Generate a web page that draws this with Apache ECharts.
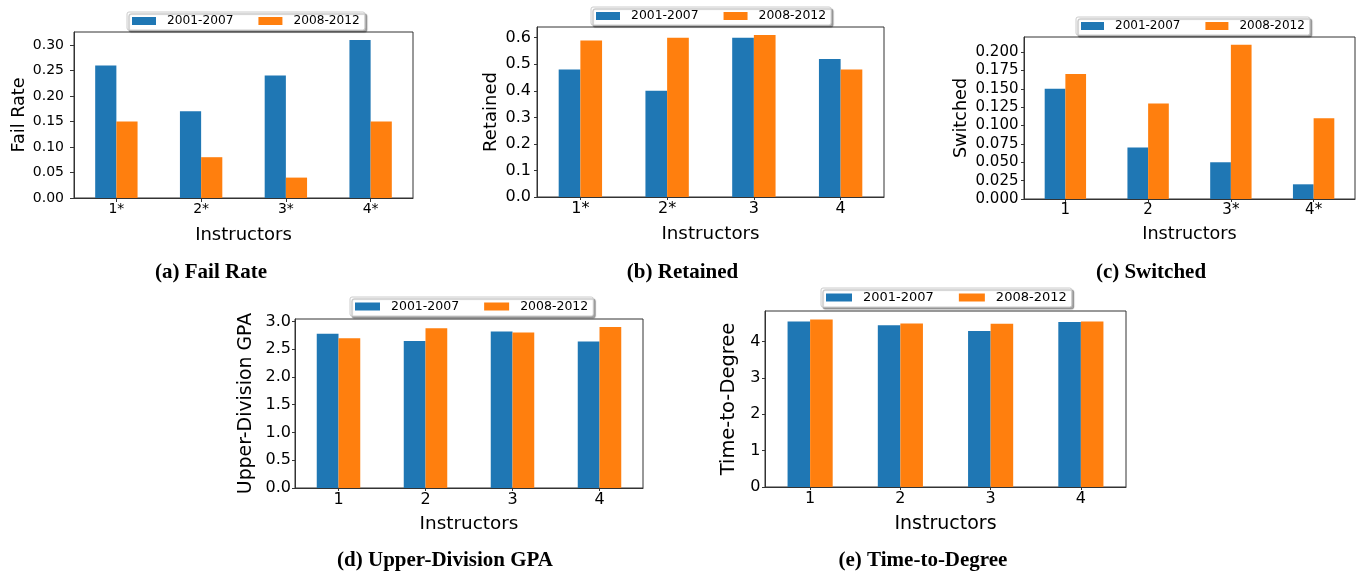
<!DOCTYPE html>
<html><head><meta charset="utf-8">
<script src="https://cdn.jsdelivr.net/npm/echarts@6/dist/echarts.min.js"></script>
<style>html,body{margin:0;padding:0;background:#fff}#c{width:1357px;height:577px}</style>
</head><body><div id="c"></div>
<script>
// ---------------- data ----------------
const seriesNames = ['2001-2007', '2008-2012'];
const xTitle = 'Instructors';

const failCats = ['1*', '2*', '3*', '4*'];
const fail0107 = [0.26, 0.17, 0.24, 0.31];
const fail0812 = [0.15, 0.08, 0.04, 0.15];
const failTicks = [0, 0.05, 0.10, 0.15, 0.20, 0.25, 0.30];

const retCats = ['1*', '2*', '3', '4'];
const ret0107 = [0.48, 0.40, 0.60, 0.52];
const ret0812 = [0.59, 0.60, 0.61, 0.48];
const retTicks = [0, 0.1, 0.2, 0.3, 0.4, 0.5, 0.6];

const swCats = ['1', '2', '3*', '4*'];
const sw0107 = [0.15, 0.07, 0.05, 0.02];
const sw0812 = [0.17, 0.13, 0.21, 0.11];
const swTicks = [0, 0.025, 0.050, 0.075, 0.100, 0.125, 0.150, 0.175, 0.200];

const gpaCats = ['1', '2', '3', '4'];
const gpa0107 = [2.78, 2.65, 2.82, 2.64];
const gpa0812 = [2.70, 2.88, 2.80, 2.90];
const gpaTicks = [0, 0.5, 1.0, 1.5, 2.0, 2.5, 3.0];

const ttdCats = ['1', '2', '3', '4'];
const ttd0107 = [4.55, 4.45, 4.29, 4.54];
const ttd0812 = [4.61, 4.50, 4.49, 4.55];
const ttdTicks = [0, 1, 2, 3, 4];

const yTitles = ['Fail Rate', 'Retained', 'Switched', 'Upper-Division GPA', 'Time-to-Degree'];
const captions = ['(a) Fail Rate', '(b) Retained', '(c) Switched', '(d) Upper-Division GPA', '(e) Time-to-Degree'];

// ---------------- layout ----------------
const colors = ['#1f77b4', '#ff7f0e'];
const FONT = 'DejaVu Sans';
const panels = [
  {cats: failCats, a: fail0107, b: fail0812, ticks: failTicks, dec: 2,
   grid: {left: 74, top: 32, width: 339, height: 166}, yGap: 55, xGap: 37,
   tickFs: 14, yMargin: 10, tickLen: 4, yNameFs: 17.6, xNameFs: 18,
   leg: {left: 127, top: 12, fs: 12.2, iw: 24}, cap: [211, 273]},
  {cats: retCats, a: ret0107, b: ret0812, ticks: retTicks, dec: 1,
   grid: {left: 537, top: 27, width: 347, height: 170}, yGap: 45.5, xGap: 37,
   tickFs: 16, yMargin: 6, tickLen: 3, yNameFs: 18, xNameFs: 18.3,
   leg: {left: 591, top: 7, fs: 12.4, iw: 24}, cap: [682.5, 273]},
  {cats: swCats, a: sw0107, b: sw0812, ticks: swTicks, dec: 3,
   grid: {left: 1024, top: 37, width: 331, height: 162}, yGap: 62.5, xGap: 35.5,
   tickFs: 15, yMargin: 5.5, tickLen: 3, yNameFs: 17.6, xNameFs: 17.6,
   leg: {left: 1076, top: 17, fs: 12, iw: 23}, cap: [1151, 273]},
  {cats: gpaCats, a: gpa0107, b: gpa0812, ticks: gpaTicks, dec: 1,
   grid: {left: 295, top: 319, width: 348, height: 169}, yGap: 48.6, xGap: 36.5,
   tickFs: 16, yMargin: 4, tickLen: 3, yNameFs: 18.9, xNameFs: 18.4,
   leg: {left: 350, top: 297, fs: 12.5, iw: 25}, cap: [445, 561]},
  {cats: ttdCats, a: ttd0107, b: ttd0812, ticks: ttdTicks, dec: 0,
   grid: {left: 765, top: 311, width: 361, height: 176}, yGap: 36.3, xGap: 37.5,
   tickFs: 16, yMargin: 4.5, tickLen: 3, yNameFs: 19.5, xNameFs: 19,
   leg: {left: 821, top: 288, fs: 13, iw: 26}, cap: [923, 561]}
];

const axisColor = '#333';
const option = {
  animation: false,
  backgroundColor: '#fff',
  grid: [], xAxis: [], yAxis: [], series: [], legend: [], graphic: []
};

panels.forEach((p, i) => {
  option.grid.push(Object.assign({show: true, borderColor: axisColor, borderWidth: 1,
    backgroundColor: 'transparent'}, p.grid));
  option.xAxis.push({
    type: 'category', gridIndex: i, data: p.cats,
    axisLine: {show: true, lineStyle: {color: axisColor, width: 1}},
    axisTick: {show: true, alignWithLabel: true, length: p.tickLen, lineStyle: {color: axisColor}},
    axisLabel: {margin: 4, fontSize: p.tickFs, color: '#000', fontFamily: FONT},
    splitLine: {show: false},
    name: xTitle, nameLocation: 'middle', nameGap: p.xGap,
    nameTextStyle: {fontSize: p.xNameFs, color: '#000', fontFamily: FONT, verticalAlign: 'middle'}
  });
  option.yAxis.push({
    type: 'value', gridIndex: i, min: 0, max: Math.max(...p.a, ...p.b) * 1.05,
    axisLine: {show: true, lineStyle: {color: axisColor, width: 1}},
    axisTick: {show: true, length: p.tickLen, customValues: p.ticks, lineStyle: {color: axisColor}},
    axisLabel: {margin: p.yMargin, fontSize: p.tickFs, color: '#000', fontFamily: FONT,
      customValues: p.ticks, formatter: (v) => Number(v).toFixed(p.dec)},
    splitLine: {show: false},
    name: yTitles[i], nameLocation: 'middle', nameGap: p.yGap, nameRotate: 90,
    nameTextStyle: {fontSize: p.yNameFs, color: '#000', fontFamily: FONT, verticalAlign: 'middle'}
  });
  [p.a, p.b].forEach((d, k) => {
    option.series.push({
      type: 'bar', name: seriesNames[k], xAxisIndex: i, yAxisIndex: i, data: d,
      barWidth: '25%', barGap: '0%', itemStyle: {color: colors[k]}
    });
  });
  option.legend.push({
    data: seriesNames, left: p.leg.left, top: p.leg.top, orient: 'horizontal',
    icon: 'rect', itemWidth: p.leg.iw, itemHeight: 8, itemGap: 25,
    padding: [3, 5], backgroundColor: '#fff', borderColor: '#ccc', borderWidth: 1, borderRadius: 2,
    shadowColor: 'rgba(0,0,0,0.35)', shadowOffsetX: 2, shadowOffsetY: 2, shadowBlur: 1,
    selectedMode: false, z: 10,
    textStyle: {fontSize: p.leg.fs, color: '#000', fontFamily: FONT, padding: [0, 0, 0, 6]}
  });
  option.graphic.push({
    type: 'text', x: p.cap[0], y: p.cap[1], z: 10,
    style: {text: captions[i], align: 'center', verticalAlign: 'middle',
      fontFamily: 'Liberation Serif', fontWeight: 'bold', fontSize: 21, fill: '#000'}
  });
});

const chart = echarts.init(document.getElementById('c'), null, {renderer: 'canvas'});
chart.setOption(option);
</script>
</body></html>
